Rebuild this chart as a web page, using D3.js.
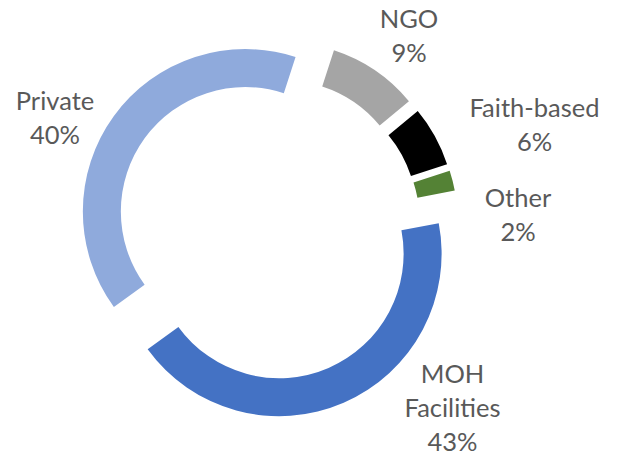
<!DOCTYPE html>
<html>
<head>
<meta charset="utf-8">
<script src="https://cdn.jsdelivr.net/npm/d3@7"></script>
<style>
  html, body { margin: 0; padding: 0; background: #ffffff; }
  svg { display: block; }
</style>
</head>
<body>
<svg id="chart" width="619" height="458"></svg>
<script>
// Data
const categories = ["NGO", "Faith-based", "Other", "MOH Facilities", "Private"];
const values = [9, 6, 2, 43, 40];
const colors = ["#a5a5a5", "#000000", "#548235", "#4472c4", "#8faadc"];
const labelLines = [["NGO", "9%"], ["Faith-based", "6%"], ["Other", "2%"], ["MOH", "Facilities", "43%"], ["Private", "40%"]];
const labelPos = [[409, 28], [534.5, 117], [518, 207], [452.5, 383], [55, 110]];

const W = 619, H = 458;
const cx = 268, cy = 228;
const R = 162.5, r = 124.5, explode = 28;
const startDeg = 18;

const svg = d3.select("#chart");
const g = svg.append("g").attr("transform", `translate(${cx},${cy})`);

const pie = d3.pie().sort(null).value(d => d)
  .startAngle(startDeg * Math.PI / 180)
  .endAngle(startDeg * Math.PI / 180 + 2 * Math.PI);
const arc = d3.arc().innerRadius(r).outerRadius(R);

const arcs = pie(values);
g.selectAll("path.slice").data(arcs).enter().append("path")
  .attr("class", "slice")
  .attr("d", arc)
  .attr("fill", (d, i) => colors[i])
  .attr("transform", d => {
    const mid = (d.startAngle + d.endAngle) / 2;
    return `translate(${explode * Math.sin(mid)},${-explode * Math.cos(mid)})`;
  });

const lineH = 34;
const lg = svg.append("g");
labelLines.forEach((lines, i) => {
  const t = lg.append("text")
    .attr("x", labelPos[i][0])
    .attr("y", labelPos[i][1])
    .attr("text-anchor", "middle")
    .attr("font-family", "Lato, 'Open Sans', sans-serif")
    .attr("font-size", 25.5)
    .attr("fill", "#595959");
  lines.forEach((ln, j) => {
    t.append("tspan").attr("x", labelPos[i][0]).attr("dy", j === 0 ? 0 : lineH).text(ln);
  });
});
</script>
</body>
</html>
